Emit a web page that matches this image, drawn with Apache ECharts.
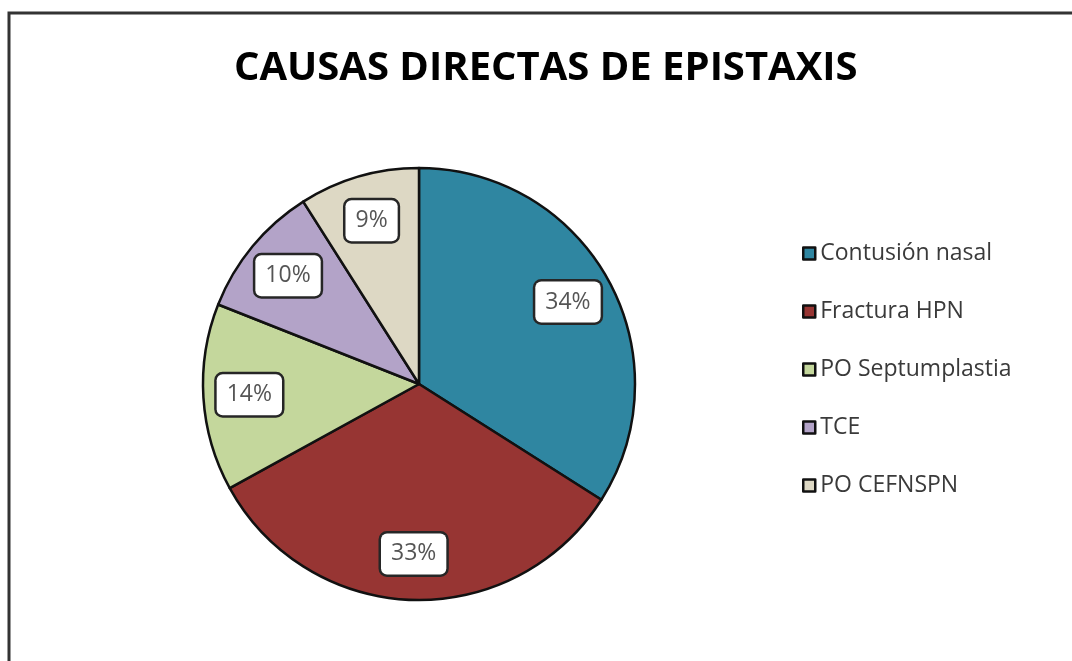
<!DOCTYPE html>
<html lang="es">
<head>
    <meta charset="UTF-8">
    <title>Causas directas de epistaxis</title>
    <script src="https://cdn.jsdelivr.net/npm/echarts@6/dist/echarts.min.js"></script>
    <style>
        html, body { margin: 0; padding: 0; background: #fff; }
        #chart { width: 1072px; height: 661px; }
    </style>
</head>
<body>
    <div id="chart"></div>
    <script>
        // datos
        var causas = ['Contusión nasal', 'Fractura HPN', 'PO Septumplastia', 'TCE', 'PO CEFNSPN']
        var porcentajes = [34, 33, 14, 10, 9]
        var colores = ['#2F86A1', '#973533', '#C4D79C', '#B3A3C8', '#DDD8C4']

        var datos = causas.map(function (c, i) {
            return { name: c, value: porcentajes[i], itemStyle: { color: colores[i] } }
        })

        var myChart = echarts.init(document.getElementById('chart'))
        var option = {
            animation: false,
            title: {
                text: 'CAUSAS DIRECTAS DE EPISTAXIS',
                left: 229,
                top: 44,
                textStyle: {
                    fontFamily: 'Open Sans',
                    fontWeight: 'bold',
                    fontSize: 40,
                    color: '#000'
                }
            },
            legend: {
                orient: 'vertical',
                left: 797,
                top: 237,
                icon: 'rect',
                itemWidth: 12,
                itemHeight: 12,
                itemGap: 35,
                textStyle: {
                    fontFamily: 'Open Sans',
                    fontSize: 23,
                    color: '#3a3a3a'
                },
                itemStyle: { borderColor: '#111', borderWidth: 2.5 },
                data: causas
            },
            graphic: [{
                type: 'rect',
                shape: { x: 9, y: 13, width: 1200, height: 800 },
                style: { fill: 'none', stroke: '#333', lineWidth: 3 },
                silent: true
            }],
            series: [
                {
                    // el pastel
                    type: 'pie',
                    center: [419, 384],
                    radius: [0, 216],
                    startAngle: 90,
                    clockwise: true,
                    label: { show: false },
                    labelLine: { show: false },
                    itemStyle: { borderColor: '#111', borderWidth: 2.5 },
                    emphasis: { disabled: true },
                    data: datos
                },
                {
                    // capa transparente solo para las etiquetas (mas afuera que el centro del sector)
                    type: 'pie',
                    center: [419, 384],
                    radius: [0, 334],
                    startAngle: 90,
                    clockwise: true,
                    silent: true,
                    z: 5,
                    itemStyle: { color: 'rgba(0,0,0,0)', borderWidth: 0 },
                    label: {
                        show: true,
                        position: 'inside',
                        formatter: '{d}%',
                        fontFamily: 'Open Sans',
                        fontSize: 23,
                        color: '#555',
                        backgroundColor: '#fff',
                        borderColor: '#262626',
                        borderWidth: 2.5,
                        borderRadius: 6,
                        padding: [9, 10]
                    },
                    labelLine: { show: false },
                    emphasis: { disabled: true },
                    data: causas.map(function (c, i) {
                        return { name: c, value: porcentajes[i] }
                    })
                }
            ]
        }
        myChart.setOption(option)
    </script>
</body>
</html>
